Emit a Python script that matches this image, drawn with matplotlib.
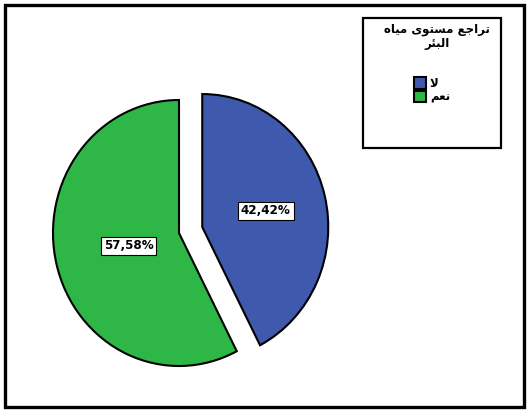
import numpy as np
import matplotlib.pyplot as plt
from matplotlib.patches import Rectangle

# Data
labels = ['لا', 'نعم']
values = [42.42, 57.58]
colors = ['#3F59AD', '#2EB646']
legend_title = 'تراجع مستوى مياه\nالبئر'

# matplotlib does no Arabic shaping or bidi, so do a small one here
# forms: isolated, final, initial, medial
FORMS = {
    'ا': (0xFE8D, 0xFE8E, None, None),
    'ب': (0xFE8F, 0xFE90, 0xFE91, 0xFE92),
    'ت': (0xFE95, 0xFE96, 0xFE97, 0xFE98),
    'ج': (0xFE9D, 0xFE9E, 0xFE9F, 0xFEA0),
    'ر': (0xFEAD, 0xFEAE, None, None),
    'س': (0xFEB1, 0xFEB2, 0xFEB3, 0xFEB4),
    'ع': (0xFEC9, 0xFECA, 0xFECB, 0xFECC),
    'ل': (0xFEDD, 0xFEDE, 0xFEDF, 0xFEE0),
    'م': (0xFEE1, 0xFEE2, 0xFEE3, 0xFEE4),
    'ن': (0xFEE5, 0xFEE6, 0xFEE7, 0xFEE8),
    'ه': (0xFEE9, 0xFEEA, 0xFEEB, 0xFEEC),
    'و': (0xFEED, 0xFEEE, None, None),
    'ى': (0xFEEF, 0xFEF0, None, None),
    'ي': (0xFEF1, 0xFEF2, 0xFEF3, 0xFEF4),
    'ئ': (0xFE89, 0xFE8A, 0xFE8B, 0xFE8C),
    'لا': (0xFEFB, 0xFEFC, None, None),
}


def shape_word(word):
    tokens = []
    i = 0
    while i < len(word):
        if word[i:i + 2] == 'لا':
            tokens.append('لا')
            i += 2
        else:
            tokens.append(word[i])
            i += 1
    out = ''
    for i, t in enumerate(tokens):
        if t not in FORMS:
            out += t
            continue
        prev_join = i > 0 and tokens[i - 1] in FORMS and FORMS[tokens[i - 1]][2] is not None
        next_join = FORMS[t][2] is not None and i < len(tokens) - 1 and tokens[i + 1] in FORMS
        if prev_join and next_join:
            out += chr(FORMS[t][3])
        elif prev_join:
            out += chr(FORMS[t][1])
        elif next_join:
            out += chr(FORMS[t][2])
        else:
            out += chr(FORMS[t][0])
    return out


def shape(text):
    lines = []
    for line in text.split('\n'):
        lines.append(' '.join(shape_word(w) for w in line.split(' '))[::-1])
    return '\n'.join(lines)


W, H = 529, 412
fig = plt.figure(figsize=(W / 100, H / 100), dpi=100)

# background axes in pixel units (frames, legend)
bg = fig.add_axes([0, 0, 1, 1])
bg.set_xlim(0, W)
bg.set_ylim(0, H)
bg.axis('off')

# pie axes: the original is a bit stretched vertically
cx, cy, rx, ry, L = 179, 233, 126, 133, 1.3
ax = fig.add_axes([(cx - L * rx) / W, (H - cy - L * ry) / H, 2 * L * rx / W, 2 * L * ry / H])
wedges, texts, autotexts = ax.pie(
    values, colors=colors, startangle=90, counterclock=False,
    explode=[0.19, 0], radius=1,
    autopct=lambda p: f'{p:.2f}%'.replace('.', ','), pctdistance=0.45,
    wedgeprops=dict(edgecolor='black', linewidth=1.5),
)
ax.set_aspect('auto')
ax.set_xlim(-L, L)
ax.set_ylim(-L, L)
ax.axis('off')

# percentage labels, a bit further out on the small slice
label_dist = [0.52, 0.41]
for w, t, d in zip(wedges, autotexts, label_dist):
    a = np.deg2rad((w.theta1 + w.theta2) / 2)
    t.set_position((w.center[0] + d * np.cos(a), w.center[1] + d * np.sin(a)))
    t.set_family('DejaVu Sans')
    t.set_stretch('condensed')
    t.set_fontweight('bold')
    t.set_fontsize(9.5)
    t.set_bbox(dict(boxstyle='square,pad=0.2', fc='white', ec='black', lw=0.8))

# legend
bg.text(437, H - 36, shape(legend_title), ha='center', va='center',
        multialignment='center', family='DejaVu Sans', weight='bold',
        fontsize=8.5, linespacing=1.1)
bg.legend(wedges, [shape(l) for l in labels], loc='upper center',
          bbox_to_anchor=(432, H - 71), bbox_transform=bg.transData,
          frameon=False, handlelength=1.05, handleheight=1.15,
          handletextpad=0.3, labelspacing=0.05, borderpad=0,
          prop=dict(family='DejaVu Sans', weight='bold', size=8.5))
bg.add_patch(Rectangle((363, H - 148), 138, 130, fill=False, ec='black', lw=1.6))

# outer frame
bg.add_patch(Rectangle((5, 5), W - 10, H - 10, fill=False, ec='black', lw=2.4))

plt.savefig('out.png', dpi=100)
